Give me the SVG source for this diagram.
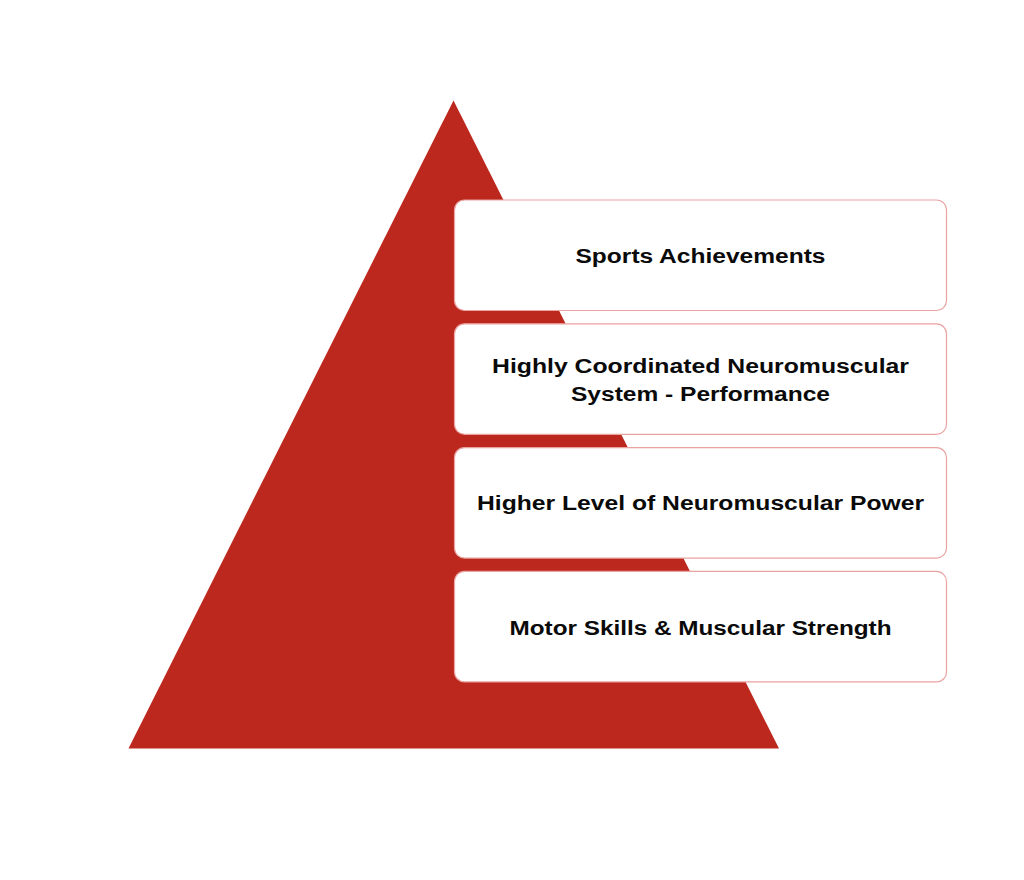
<svg xmlns="http://www.w3.org/2000/svg" width="1024" height="880" viewBox="0 0 1024 880">
<style>
.box{fill:#ffffff;stroke:#E9A3A0;stroke-width:1.2}
.t{font-family:"Liberation Sans",Arial,sans-serif;font-weight:bold;font-size:20px;fill:#0a0a0a;text-anchor:middle}
</style>
<rect width="1024" height="880" fill="#ffffff"/>
<g id="pyramid">
<polygon points="453.5,100.5 779,748.5 128.5,748.5" fill="#BC281E"/>
</g>
<g id="connectors"></g>
<g id="node1">
<rect class="box" x="454.5" y="200" width="492" height="110.5" rx="10"/>
<text class="t" x="700.5" y="263" textLength="250" lengthAdjust="spacingAndGlyphs">Sports Achievements</text>
</g>
<g id="node2">
<rect class="box" x="454.5" y="323.8" width="492" height="110.5" rx="10"/>
<text class="t" x="700.5" y="373" textLength="417" lengthAdjust="spacingAndGlyphs">Highly Coordinated Neuromuscular</text>
<text class="t" x="700.5" y="401" textLength="259" lengthAdjust="spacingAndGlyphs">System - Performance</text>
</g>
<g id="node3">
<rect class="box" x="454.5" y="447.6" width="492" height="110.5" rx="10"/>
<text class="t" x="700.5" y="510" textLength="447" lengthAdjust="spacingAndGlyphs">Higher Level of Neuromuscular Power</text>
</g>
<g id="node4">
<rect class="box" x="454.5" y="571.4" width="492" height="110.5" rx="10"/>
<text class="t" x="700.5" y="635" textLength="382" lengthAdjust="spacingAndGlyphs">Motor Skills &amp; Muscular Strength</text>
</g>
</svg>
